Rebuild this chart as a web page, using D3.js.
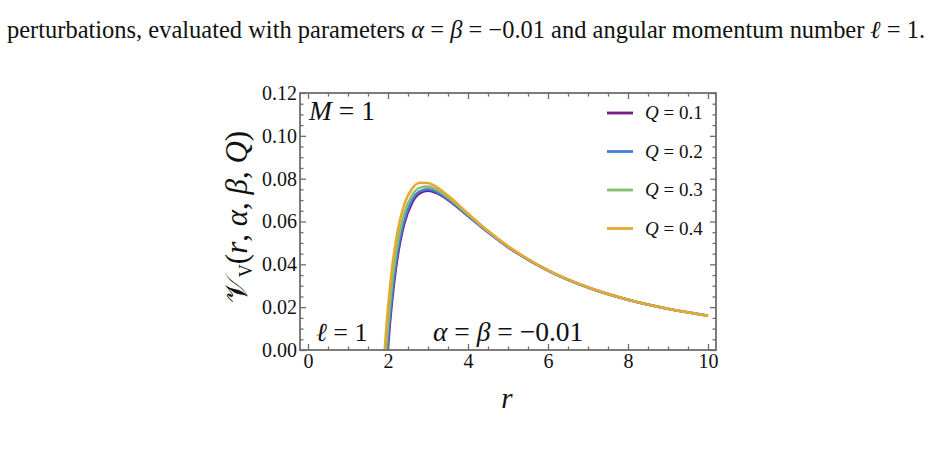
<!DOCTYPE html>
<html><head><meta charset="utf-8">
<script src="https://cdn.jsdelivr.net/npm/d3@7"></script>
<style>
html,body{margin:0;padding:0;background:#fff;}
svg{display:block;}
</style></head>
<body><svg id="c" width="932" height="457"></svg>
<script>
// ---- data ----
const seriesLabels = ["Q = 0.1", "Q = 0.2", "Q = 0.3", "Q = 0.4"];
const seriesColors = ["#7b1b89", "#3f7fd8", "#84bf6f", "#e6a832"];
const horizonR = [1.995, 1.980, 1.954, 1.917];
const rGrid = [1.95, 1.97, 1.99, 2.0, 2.05, 2.1, 2.2, 2.3, 2.4, 2.6, 2.8, 3.0, 3.2, 3.5, 4, 4.5, 5, 6, 7, 8, 9, 10];
const vQ1 = [null, null, null, 0.00125, 0.01274, 0.02263, 0.03842, 0.05003, 0.05847, 0.06871, 0.07321, 0.07432, 0.07343, 0.07010, 0.06258, 0.05492, 0.04803, 0.03705, 0.02916, 0.02344, 0.01921, 0.01600];
const vQ2 = [null, null, 0.00256, 0.00500, 0.01614, 0.02571, 0.04098, 0.05217, 0.06028, 0.07003, 0.07419, 0.07506, 0.07401, 0.07050, 0.06281, 0.05506, 0.04813, 0.03710, 0.02919, 0.02346, 0.01922, 0.01601];
const vQ3 = [null, 0.00410, 0.00894, 0.01125, 0.02180, 0.03085, 0.04525, 0.05575, 0.06330, 0.07221, 0.07582, 0.07630, 0.07496, 0.07117, 0.06320, 0.05531, 0.04829, 0.03718, 0.02923, 0.02348, 0.01923, 0.01602];
const vQ4 = [0.00865, 0.01340, 0.01787, 0.02000, 0.02973, 0.03805, 0.05123, 0.06075, 0.06752, 0.07528, 0.07809, 0.07803, 0.07629, 0.07210, 0.06375, 0.05565, 0.04851, 0.03728, 0.02929, 0.02352, 0.01925, 0.01603];
const xTicks = [0, 2, 4, 6, 8, 10];
const xMinor = [0.5, 1, 1.5, 2.5, 3, 3.5, 4.5, 5, 5.5, 6.5, 7, 7.5, 8.5, 9, 9.5];
const yTicks = [0, 0.02, 0.04, 0.06, 0.08, 0.10, 0.12];
const yMinor = [0.005, 0.01, 0.015, 0.025, 0.03, 0.035, 0.045, 0.05, 0.055, 0.065, 0.07, 0.075, 0.085, 0.09, 0.095, 0.105, 0.11, 0.115];
const xDomain = [-0.2, 10.2];
const yDomain = [0, 0.12];

const allV = [vQ1, vQ2, vQ3, vQ4];
const series = allV.map((vs, i) => {
  const pts = [[horizonR[i], 0]];
  rGrid.forEach((r, j) => { if (vs[j] !== null && r > horizonR[i]) pts.push([r, vs[j]]); });
  return pts;
});

// ---- layout ----
const FONT = "'Liberation Serif', 'Times New Roman', serif";
const L = 300, R = 716, T = 93, B = 350;
const svg = d3.select("#c");
const x = d3.scaleLinear().domain(xDomain).range([L, R]);
const y = d3.scaleLinear().domain(yDomain).range([B, T]);
const frameColor = "#6e6e6e";

// title line
const title = svg.append("text").attr("x", 7).attr("y", 38)
  .style("font-family", FONT).style("font-size", "21px").style("fill", "#111");
title.append("tspan").text("perturbations, evaluated with parameters ");
title.append("tspan").style("font-style", "italic").text("α");
title.append("tspan").text(" = ");
title.append("tspan").style("font-style", "italic").text("β");
title.append("tspan").text(" = −0.01 and angular momentum number ");
title.append("tspan").style("font-style", "italic").text("ℓ");
title.append("tspan").text(" = 1.");
{
  const w = title.node().getComputedTextLength();
  title.style("font-size", (21 * 918 / w).toFixed(2) + "px");
}

// curves
svg.append("clipPath").attr("id", "clip").append("rect")
  .attr("x", L).attr("y", T).attr("width", R - L).attr("height", B - T);
const line = d3.line().x(d => x(d[0])).y(d => y(d[1])).curve(d3.curveMonotoneX);
svg.append("g").attr("clip-path", "url(#clip)").selectAll("path").data(series).join("path")
  .attr("d", line).attr("fill", "none").attr("stroke", (d, i) => seriesColors[i])
  .attr("stroke-width", 2.5).attr("stroke-linejoin", "round");

// axes
function styleAxis(g) {
  g.attr("font-family", null).attr("font-size", null);
  g.select(".domain").remove();
  g.selectAll(".tick line").attr("stroke", frameColor).attr("stroke-width", 1.3);
  g.selectAll(".tick text").style("font-size", "20px").style("font-family", FONT).style("fill", "#111");
}
svg.append("g").attr("transform", `translate(0,${B})`)
  .call(d3.axisBottom(x).tickValues(xTicks).tickSize(-6).tickPadding(4).tickFormat(d3.format("d")))
  .call(styleAxis);
svg.append("g").attr("transform", `translate(0,${B})`)
  .call(d3.axisBottom(x).tickValues(xMinor).tickSize(-3.5).tickFormat(""))
  .call(styleAxis);
svg.append("g").attr("transform", `translate(0,${T})`)
  .call(d3.axisTop(x).tickValues(xTicks).tickSize(-6).tickFormat(""))
  .call(styleAxis);
svg.append("g").attr("transform", `translate(0,${T})`)
  .call(d3.axisTop(x).tickValues(xMinor).tickSize(-3.5).tickFormat(""))
  .call(styleAxis);
svg.append("g").attr("transform", `translate(${L},0)`)
  .call(d3.axisLeft(y).tickValues(yTicks).tickSize(-6).tickPadding(3).tickFormat(d3.format(".2f")))
  .call(styleAxis);
svg.append("g").attr("transform", `translate(${L},0)`)
  .call(d3.axisLeft(y).tickValues(yMinor).tickSize(-3.5).tickFormat(""))
  .call(styleAxis);
svg.append("g").attr("transform", `translate(${R},0)`)
  .call(d3.axisRight(y).tickValues(yTicks).tickSize(-6).tickFormat(""))
  .call(styleAxis);
svg.append("g").attr("transform", `translate(${R},0)`)
  .call(d3.axisRight(y).tickValues(yMinor).tickSize(-3.5).tickFormat(""))
  .call(styleAxis);

// frame
svg.append("rect").attr("x", L).attr("y", T).attr("width", R - L).attr("height", B - T)
  .attr("fill", "none").attr("stroke", frameColor).attr("stroke-width", 1.8);

// in-plot labels
function mathText(xp, yp, parts, size, anchor) {
  const t = svg.append("text").attr("x", xp).attr("y", yp)
    .style("font-family", FONT).style("font-size", size + "px").style("fill", "#111")
    .attr("text-anchor", anchor || "start");
  parts.forEach(p => t.append("tspan").style("font-style", p[1] ? "italic" : "normal").text(p[0]));
  return t;
}
mathText(309, 120, [["M", true], [" = 1", false]], 27.5);
mathText(316, 341, [["ℓ", true], [" = 1", false]], 26);
mathText(433, 341, [["α", true], [" = ", false], ["β", true], [" = −0.01", false]], 27.5);

// legend
const lg = svg.append("g");
seriesLabels.forEach((lab, i) => {
  const yy = 113 + i * 38.5;
  lg.append("line").attr("x1", 607).attr("x2", 633).attr("y1", yy).attr("y2", yy)
    .attr("stroke", seriesColors[i]).attr("stroke-width", 2.8);
  const t = lg.append("text").attr("x", 645).attr("y", yy + 6)
    .style("font-family", FONT).style("font-size", "19px").style("fill", "#111");
  t.append("tspan").style("font-style", "italic").text("Q");
  t.append("tspan").text(lab.slice(1));
});

// axis titles
svg.append("text").attr("x", 507).attr("y", 408)
  .style("font-family", FONT).style("font-size", "29px").style("fill", "#111")
  .style("font-style", "italic").attr("text-anchor", "middle").text("r");
const yl = svg.append("text").attr("transform", "translate(247,217) rotate(-90)")
  .style("font-family", FONT).style("font-size", "31px").style("fill", "#111")
  .attr("text-anchor", "middle");
yl.append("tspan").text("𝒱");
yl.append("tspan").style("font-size", "18px").attr("dy", 5).text("V");
yl.append("tspan").attr("dy", -5).text("(");
yl.append("tspan").style("font-style", "italic").text("r");
yl.append("tspan").text(", ");
yl.append("tspan").style("font-style", "italic").text("α");
yl.append("tspan").text(", ");
yl.append("tspan").style("font-style", "italic").text("β");
yl.append("tspan").text(", ");
yl.append("tspan").style("font-style", "italic").text("Q");
yl.append("tspan").text(")");
</script></body></html>
